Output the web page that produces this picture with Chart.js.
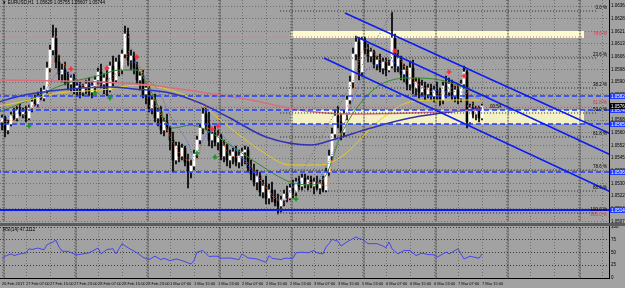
<!DOCTYPE html>
<html><head><meta charset="utf-8">
<script src="https://cdn.jsdelivr.net/npm/chart.js@4/dist/chart.umd.min.js"></script>
<style>
html,body{margin:0;padding:0;background:#a2a2a2;width:625px;height:288px;overflow:hidden}
#c1{position:absolute;left:0;top:0}
#sep{position:absolute;left:0;top:223px;width:625px;height:3px;background:#5c5c5c}
#c2{position:absolute;left:0;top:226px}
</style></head><body>
<canvas id="c1" width="625" height="223"></canvas>
<div id="sep"></div>
<canvas id="c2" width="625" height="62"></canvas>
<script>
// ---------- DATA (EURUSD H1) ----------
const open=[1.05668,1.05692,1.0562,1.05656,1.0571,1.05692,1.0574,1.05716,1.05728,1.05692,
1.05752,1.05788,1.05776,1.05824,1.05812,1.0586,1.05992,1.061,1.06172,1.06028,
1.05956,1.0598,1.0592,1.05896,1.05932,1.05872,1.05884,1.05848,1.05872,1.05896,
1.05848,1.05884,1.0592,1.05968,1.05896,1.05932,1.0586,1.06004,1.0592,1.06028,
1.0598,1.06076,1.06196,1.0604,1.06064,1.05992,1.0592,1.05944,1.05836,1.05872,
1.05752,1.058,1.05692,1.05728,1.0562,1.05668,1.05632,1.0556,1.0544,1.05524,
1.05464,1.05512,1.05428,1.05368,1.05404,1.05476,1.0556,1.05632,1.05716,1.05656,
1.0556,1.05596,1.05548,1.05584,1.05464,1.05524,1.0544,1.05464,1.05488,1.05428,
1.05464,1.05488,1.055,1.05392,1.05356,1.05308,1.05344,1.05248,1.05284,1.05212,
1.0526,1.05212,1.05188,1.05164,1.052,1.05236,1.05212,1.05272,1.05248,1.05308,
1.05284,1.05332,1.05296,1.0532,1.05284,1.05308,1.05272,1.05296,1.0526,1.05368,
1.05464,1.05596,1.05704,1.05668,1.05608,1.05716,1.058,1.05908,1.06076,1.06148,
1.05968,1.0616,1.061,1.06064,1.06088,1.06016,1.0604,1.05992,1.06028,1.0598,
1.06004,1.06172,1.06004,1.06052,1.05956,1.0598,1.05896,1.05992,1.05872,1.05908,
1.05848,1.05884,1.05836,1.05872,1.05824,1.0586,1.05836,1.058,1.05884,1.05848,
1.05896,1.05824,1.0586,1.05812,1.05896,1.05968,1.05668,1.05752,1.05716,1.0574,
1.05692];
const high=[1.0571,1.05704,1.0568,1.05728,1.05752,1.05764,1.05776,1.05752,1.05764,1.0577,
1.05812,1.0583,1.05848,1.05872,1.05884,1.06028,1.0613,1.0625,1.06232,1.0607,
1.06016,1.06028,1.05968,1.0595,1.05956,1.0592,1.05908,1.05896,1.0592,1.05932,
1.05908,1.05944,1.05992,1.06016,1.05956,1.0598,1.06028,1.06064,1.06052,1.0607,
1.061,1.06244,1.06232,1.061,1.06088,1.06028,1.05968,1.0598,1.05896,1.05884,
1.05824,1.05836,1.05752,1.05764,1.05692,1.05716,1.05644,1.05608,1.05548,1.05548,
1.05536,1.05524,1.05476,1.0544,1.055,1.05584,1.05656,1.05752,1.05764,1.05728,
1.05608,1.05644,1.0562,1.05596,1.0556,1.05536,1.055,1.05512,1.05524,1.055,
1.05512,1.05524,1.05518,1.0544,1.05416,1.0538,1.05368,1.0532,1.05344,1.05296,
1.05308,1.0526,1.05236,1.05224,1.0526,1.05284,1.05296,1.0532,1.05332,1.05344,
1.05356,1.05356,1.05344,1.05344,1.05332,1.05344,1.0532,1.05344,1.05392,1.055,
1.05632,1.0574,1.05764,1.05716,1.0574,1.05824,1.05944,1.06112,1.06184,1.06172,
1.06178,1.06178,1.06136,1.06112,1.061,1.06064,1.06076,1.06052,1.06052,1.0604,
1.06328,1.06196,1.061,1.06064,1.06016,1.06004,1.06028,1.0604,1.05932,1.05932,
1.0592,1.05908,1.05896,1.05896,1.05884,1.05908,1.05872,1.05908,1.05944,1.05932,
1.0592,1.05884,1.05896,1.0592,1.06004,1.0598,1.05776,1.05788,1.05764,1.05764,
1.05776];
const low=[1.0562,1.05578,1.05596,1.05644,1.0568,1.05674,1.05704,1.05692,1.05668,1.0568,
1.05728,1.05764,1.05758,1.058,1.05794,1.05842,1.05968,1.0607,1.05992,1.0592,
1.05908,1.0589,1.0586,1.05848,1.05836,1.05824,1.05812,1.05824,1.05836,1.05824,
1.05812,1.05848,1.05896,1.05872,1.05836,1.05824,1.05848,1.05884,1.05908,1.05944,
1.05956,1.06052,1.06004,1.0598,1.05956,1.05896,1.0586,1.05812,1.05776,1.05728,
1.05716,1.05668,1.05644,1.05596,1.05584,1.05608,1.055,1.05368,1.05416,1.05428,
1.0544,1.05404,1.05272,1.05332,1.0538,1.05452,1.05536,1.05596,1.0562,1.05524,
1.05512,1.05524,1.055,1.0544,1.05428,1.05404,1.05392,1.05416,1.05404,1.05392,
1.05404,1.05416,1.05368,1.0532,1.05284,1.0526,1.05224,1.05212,1.05176,1.05176,
1.05188,1.05164,1.05116,1.05128,1.05164,1.05188,1.052,1.05212,1.05224,1.0526,
1.0526,1.05272,1.0526,1.05272,1.05236,1.0526,1.05236,1.05248,1.05248,1.05344,
1.0544,1.05572,1.05632,1.0556,1.05584,1.0568,1.05776,1.05872,1.0604,1.0592,
1.05944,1.06076,1.06028,1.06028,1.05992,1.0598,1.05968,1.05956,1.05944,1.05968,
1.05992,1.05968,1.05968,1.0592,1.05908,1.0586,1.0586,1.05836,1.05824,1.05812,
1.05824,1.058,1.05812,1.058,1.05788,1.058,1.05764,1.05776,1.05812,1.05824,
1.058,1.05788,1.05776,1.05788,1.05872,1.05632,1.05656,1.05692,1.0568,1.05668,
1.0568];
const close=[1.05692,1.0562,1.05656,1.0571,1.05692,1.0574,1.05716,1.05728,1.05692,1.05752,
1.05788,1.05776,1.05824,1.05812,1.0586,1.05992,1.061,1.06172,1.06028,1.05956,
1.0598,1.0592,1.05896,1.05932,1.05872,1.05884,1.05848,1.05872,1.05896,1.05848,
1.05884,1.0592,1.05968,1.05896,1.05932,1.0586,1.06004,1.0592,1.06028,1.0598,
1.06076,1.06196,1.0604,1.06064,1.05992,1.0592,1.05944,1.05836,1.05872,1.05752,
1.058,1.05692,1.05728,1.0562,1.05668,1.05632,1.0556,1.0544,1.05524,1.05464,
1.05512,1.05428,1.05368,1.05404,1.05476,1.0556,1.05632,1.05716,1.05656,1.0556,
1.05596,1.05548,1.05584,1.05464,1.05524,1.0544,1.05464,1.05488,1.05428,1.05464,
1.05488,1.055,1.05392,1.05356,1.05308,1.05344,1.05248,1.05284,1.05212,1.0526,
1.05212,1.05188,1.05164,1.052,1.05236,1.05212,1.05272,1.05248,1.05308,1.05284,
1.05332,1.05296,1.0532,1.05284,1.05308,1.05272,1.05296,1.0526,1.05368,1.05464,
1.05596,1.05704,1.05668,1.05608,1.05716,1.058,1.05908,1.06076,1.06148,1.05968,
1.0616,1.061,1.06064,1.06088,1.06016,1.0604,1.05992,1.06028,1.0598,1.06004,
1.06172,1.06004,1.06052,1.05956,1.0598,1.05896,1.05992,1.05872,1.05908,1.05848,
1.05884,1.05836,1.05872,1.05824,1.0586,1.05836,1.058,1.05884,1.05848,1.05896,
1.05824,1.0586,1.05812,1.05896,1.05968,1.05668,1.05752,1.05716,1.0574,1.05692,
1.05764];

// moving averages: [bar index, price]
const maPink=[[-1,1.0592],[33,1.05908],[49,1.0589],[66,1.05848],[83,1.058],[99,1.0574],[116,1.05716],[136,1.05722],[160,1.0574]];
const maNavy=[[-1,1.05788],[6,1.05824],[19,1.0586],[36,1.05878],[44,1.05866],[56,1.05842],[66,1.05782],[76,1.05692],[88,1.05578],[103,1.0553],[110,1.0556],[123,1.05632],[136,1.05692],[160,1.05752]];
const maYellow=[[-1,1.05764],[3,1.05776],[9,1.058],[19,1.05842],[33,1.0586],[46,1.0589],[56,1.0586],[66,1.05782],[72,1.05692],[86,1.055],[96,1.0541],[106,1.0541],[113,1.05458],[126,1.0568],[136,1.05788],[146,1.058],[160,1.058]];
const maGreen=[[-1,1.05728],[9,1.058],[16,1.0586],[22,1.05902],[33,1.0595],[39,1.0598],[45,1.0598],[49,1.05872],[57,1.05632],[63,1.0565],[68,1.0562],[76,1.0553],[86,1.0541],[96,1.05308],[103,1.0529],[108,1.0535],[113,1.0559],[119,1.0577],[126,1.0589],[136,1.05932],[146,1.0592],[160,1.0583]];
const maBlueDot=[[-1,1.0568],[6,1.05728],[13,1.058],[16,1.05902],[19,1.05968],[22,1.05962],[26,1.0589],[33,1.05902],[41,1.05998],[44,1.06028],[48,1.05932],[52,1.0586],[56,1.0571],[62,1.05542],[64,1.05458],[68,1.0559],[71,1.0562],[75,1.0556],[88,1.05278],[93,1.052],[99,1.05308],[104,1.05302],[108,1.05398],[113,1.05602],[117,1.058],[121,1.05968],[125,1.0601],[129,1.0604],[136,1.0592],[143,1.0586],[153,1.05848],[160,1.058]];
const maOrangeDot=[[0,1.05668],[4,1.0568],[8,1.05716],[12,1.058],[15,1.05872],[17,1.0604],[19,1.0607],[22,1.05968],[26,1.05896],[30,1.05872],[34,1.05908],[38,1.05944],[41,1.06028],[43,1.06112],[46,1.06004],[50,1.0583],[54,1.05668],[58,1.05512],[62,1.0544],[65,1.0544],[68,1.05632],[72,1.05596],[76,1.0547],[80,1.05452],[84,1.0538],[88,1.05272],[92,1.052],[96,1.05212],[100,1.05284],[104,1.05308],[108,1.05284],[111,1.055],[114,1.0565],[117,1.0583],[119,1.0604],[122,1.06112],[126,1.0604],[129,1.06028],[131,1.061],[134,1.06004],[138,1.05908],[142,1.0586],[146,1.05836],[150,1.05872],[154,1.05884],[157,1.05776],[160,1.0574]];

// fractal markers [bar index, price]
const redMarks=[[23,1.05986],[35,1.05992],[45,1.06058],[70,1.05626],[72,1.05644],[131,1.06094],[149,1.05968],[154,1.05944]];
const greenMarks=[[9,1.05644],[31,1.05842],[36,1.05812],[65,1.05482],[71,1.05458],[98,1.05206]];

// objects
const chUpper=[[114.3,1.06322],[203,1.05596]];
const chMid=[[118.3,1.06178],[203,1.0547]];
const chLower=[[107.3,1.06052],[203,1.05248]];
const fibDiag=[[92,1.05116],[130,1.06328]];
const dashBlue=[1.05824,1.0574,1.05656,1.05368];
const solidBlue=[1.0514];
const pinkDot=[1.06178,1.05764,1.05092];
const pinkLabels=["78.6 %","61.8 %","100.0 %"];
const fibLevels=[1.06334,1.06052,1.05872,1.05722,1.05578,1.0538,1.05254,1.05122];
const fibLabels=["0.0 %","23.6 %","38.2 %","50.0 %","61.8 %","78.6 %","88.6 %","100.0 %"];
const fibSpan=[92.7,198.3];
const zoneTop=[1.06214,1.06172];
const zoneMid=[1.0574,1.05656];
const zoneSpan=[96.3,194];
const boxPrices=[1.05824,1.0574,1.05656,1.05368,1.0514];

// axes
const priceTicks=[1.06364,1.06288,1.06212,1.06136,1.0606,1.05984,1.05908,1.05832,1.05756,1.0568,1.05604,1.05528,1.05452,1.05376,1.053,1.05224,1.05148,1.05072];
const yMin=1.05068, yMax=1.0640;
const gridIdx=[0,8,16,24,32,40,48,56,64,72,80,88,96,104,112,120,128,136,144,152,160,168,176,184,192,200];
const timeLabels=["26 Feb 2017","27 Feb 07:00","27 Feb 15:00","27 Feb 23:00","28 Feb 07:00","28 Feb 15:00","28 Feb 23:00","1 Mar 07:00","1 Mar 15:00","1 Mar 23:00","2 Mar 07:00","2 Mar 15:00","2 Mar 23:00","3 Mar 07:00","3 Mar 15:00","5 Mar 23:00","6 Mar 07:00","6 Mar 15:00","6 Mar 23:00","7 Mar 07:00","7 Mar 15:00"];
const daySep=[0.67,24.67,48.67,72.67,96.67,120.67,144.67,168.67,192.67];
const xMin=-0.6667, xMax=202.3333;

// RSI(14): [bar index, value]
const rsi=[[0,38.7],[1,42.7],[3,47.3],[4,44],[6,47.3],[8,49.3],[9,57.3],[10,56],[12,58.7],[14,55.3],[15,65.3],[17,70.7],[18,74],[19,60.7],[20,52.7],[22,52],[25,45.3],[27,47.3],[29,49.3],[32,58.7],[33,47.3],[35,56],[37,57.3],[38,47.3],[39,57.3],[40,67.3],[42,59.3],[44,52.7],[45,49.3],[47,40.7],[49,36],[51,42.7],[53,36],[54,38.7],[56,34],[58,37.3],[59,36],[61,32],[63,27.3],[64,34],[65,50.7],[67,54],[69,42],[70,42.7],[72,42.7],[73,38.7],[76,39.3],[79,36],[80,47.3],[82,39.3],[85,37.3],[88,30.7],[89,44],[90,38.7],[93,36],[94,38.7],[97,38.7],[98,49.3],[100,50.7],[102,49.3],[104,54],[105,49.3],[107,47.3],[108,60.7],[109,67.3],[110,76],[112,72],[113,62.7],[115,70.7],[118,80.7],[119,77.3],[120,76],[122,67.3],[125,67.3],[127,62.7],[128,59.3],[129,70.7],[130,57.3],[132,47.3],[134,54],[136,54],[138,44],[140,48.7],[142,46],[144,45.3],[145,40.7],[148,50.7],[149,47.3],[152,57.3],[154,37.3],[156,42.7],[159,38.7],[160,47.1]];
const rsiTicks=[0,25,50,75,100];

const titleText="\u25BC EURUSD,H1  1.05629 1.05755 1.05607 1.05744";
const rsiTitle="RSI(14) 47.1112";
const timerText="00:54";

// ---------- BUILD ----------
Chart.defaults.font.family="Arial, 'Liberation Sans', sans-serif";
const pts=a=>a.map(p=>({x:p[0],y:p[1]}));
const idx=close.map((_,i)=>i);
const hLine=(p,color,dash,w,order,x0,x1)=>({type:'line',data:[{x:(x0===undefined?-2:x0),y:p},{x:(x1===undefined?204:x1),y:p}],borderColor:color,borderDash:dash||[],borderWidth:w,pointRadius:0,order});
const vLine=(x,y0,y1,color,dash,order)=>({type:'line',data:[{x,y:y0},{x,y:y1}],borderColor:color,borderDash:dash||[],borderWidth:1,pointRadius:0,order});
const maLine=(a,color,w,dash,order)=>({type:'line',data:pts(a),borderColor:color,borderWidth:w,borderDash:dash||[],pointRadius:0,cubicInterpolationMode:'monotone',order});

const ds=[];
ds.push({type:'line',data:[{x:zoneSpan[0],y:zoneTop[0]},{x:zoneSpan[1],y:zoneTop[0]}],borderColor:'rgba(0,0,0,0)',borderWidth:1,pointRadius:0,fill:'+1',backgroundColor:'#fbfbcf',order:100});
ds.push({type:'line',data:[{x:zoneSpan[0],y:zoneTop[1]},{x:zoneSpan[1],y:zoneTop[1]}],borderColor:'rgba(0,0,0,0)',borderWidth:1,pointRadius:0,order:100});
ds.push({type:'line',data:[{x:zoneSpan[0],y:zoneMid[0]},{x:zoneSpan[1],y:zoneMid[0]}],borderColor:'rgba(0,0,0,0)',borderWidth:1,pointRadius:0,fill:'+1',backgroundColor:'#f3f1c4',order:100});
ds.push({type:'line',data:[{x:zoneSpan[0],y:zoneMid[1]},{x:zoneSpan[1],y:zoneMid[1]}],borderColor:'rgba(0,0,0,0)',borderWidth:1,pointRadius:0,order:100});
daySep.forEach(s=>ds.push(vLine(s,yMin-1,yMax+1,'#3c3c3c',[2,1],95)));
ds.push({type:'bar',data:idx.map(i=>({x:i,y:[low[i],high[i]]})),backgroundColor:'#000',barThickness:1,grouped:false,order:90});
ds.push({type:'bar',data:idx.map(i=>({x:i,y:[open[i],close[i]]})),backgroundColor:idx.map(i=>close[i]>=open[i]?'#ffffff':'#000000'),barThickness:2,grouped:false,minBarLength:1,order:85});
ds.push(maLine(maPink,'#d8707c',1.5,null,60));
ds.push(maLine(maNavy,'#3232b4',1.5,null,60));
ds.push(maLine(maYellow,'#e8cc20',1,null,60));
ds.push(maLine(maGreen,'#2f8a2f',1,null,60));
ds.push(maLine(maBlueDot,'#3f5cff',1,[1,1.5],59));
ds.push(maLine(maOrangeDot,'#f06a30',1,[1,1.5],58));
pinkDot.forEach(p=>ds.push(hLine(p,'#e0707e',[1,2],1,52,-2,198.3)));
fibLevels.forEach(p=>ds.push(hLine(p,'#262626',[1,2],1,51,fibSpan[0],fibSpan[1])));
dashBlue.forEach(p=>ds.push(hLine(p,'#1e3cff',[5,3],1.5,50)));
solidBlue.forEach(p=>ds.push(hLine(p,'#0a14ff',null,2,50)));
ds.push({type:'line',data:pts(fibDiag),borderColor:'#6a6a6a',borderDash:[1,2],borderWidth:1,pointRadius:0,order:49});
[chUpper,chMid,chLower].forEach(c=>ds.push({type:'line',data:pts(c),borderColor:'#0a1cf0',borderWidth:1.5,pointRadius:0,order:30}));
ds.push({type:'line',data:pts(redMarks),showLine:false,pointStyle:'cross',pointRadius:2.5,pointBorderWidth:1.6,pointBorderColor:'#ff2a3a',borderColor:'#ff2a3a',order:5});
ds.push({type:'line',data:pts(greenMarks),showLine:false,pointStyle:'cross',pointRadius:2.5,pointBorderWidth:1.6,pointBorderColor:'#129a12',borderColor:'#129a12',order:5});

const small='4.5px Arial';
const mainDeco={id:'mainDeco',afterDraw(chart){
  const {ctx,chartArea:a,scales:{x,y}}=chart;
  ctx.save();
  ctx.setLineDash([]);
  ctx.strokeStyle='#000';ctx.lineWidth=1;
  ctx.beginPath();ctx.moveTo(a.right+0.5,0);ctx.lineTo(a.right+0.5,chart.height);ctx.stroke();
  ctx.font=small;ctx.fillStyle='#000';ctx.textAlign='left';ctx.textBaseline='top';
  ctx.fillText(titleText,2,1);
  ctx.textAlign='right';ctx.textBaseline='bottom';
  fibLevels.forEach((p,i)=>ctx.fillText(fibLabels[i],a.right-2,y.getPixelForValue(p)-0.5));
  ctx.fillStyle='#e0304a';
  pinkDot.forEach((p,i)=>ctx.fillText(pinkLabels[i],a.right-2,y.getPixelForValue(p)-0.5));
  ctx.textAlign='left';ctx.textBaseline='middle';
  boxPrices.forEach(p=>{const yy=Math.round(y.getPixelForValue(p));ctx.fillStyle='#1f3cff';ctx.fillRect(a.right+1,yy-3,15,6);ctx.fillStyle='#fff';ctx.fillText(p.toFixed(5),a.right+2,yy+0.5);});
  const last=close[close.length-1];const ly=Math.round(y.getPixelForValue(last));
  ctx.fillStyle='#000';ctx.fillRect(a.right+1,ly-3,15,6);ctx.fillStyle='#fff';ctx.fillText(last.toFixed(5),a.right+2,ly+0.5);
  ctx.fillStyle='#000';ctx.fillText(timerText,x.getPixelForValue(close.length-1)+8,ly+1);
  ctx.restore();
}};

new Chart(document.getElementById('c1'),{
  type:'bar',
  data:{datasets:ds},
  options:{
    responsive:false,animation:false,devicePixelRatio:1,
    layout:{padding:0,autoPadding:false},
    plugins:{legend:{display:false},tooltip:{enabled:false}},
    elements:{point:{radius:0}},
    scales:{
      x:{type:'linear',min:xMin,max:xMax,offset:false,
        grid:{offset:false,color:'rgba(70,70,70,0.55)',drawTicks:false,lineWidth:1},
        border:{display:false,dash:[1,2]},
        ticks:{display:false},
        afterBuildTicks:s=>{s.ticks=gridIdx.map(v=>({value:v}));},
        afterFit:s=>{s.height=1;s.paddingLeft=0;s.paddingRight=0;}},
      y:{type:'linear',position:'right',min:yMin,max:yMax,
        grid:{color:'rgba(70,70,70,0.55)',drawTicks:false,lineWidth:1},
        border:{display:false,dash:[1,2]},
        ticks:{font:{size:4.5},color:'#000',padding:2,autoSkip:false,callback:v=>Number(v).toFixed(5)},
        afterBuildTicks:s=>{s.ticks=priceTicks.map(v=>({value:v}));},
        afterFit:s=>{s.width=16;s.paddingTop=0;s.paddingBottom=0;}}
    }
  },
  plugins:[mainDeco]
});

// ---------- RSI panel ----------
const rds=[];
rds.push({type:'line',data:pts(rsi),borderColor:'#4646f0',borderWidth:1,pointRadius:0,order:10});
daySep.forEach(s=>rds.push(vLine(s,-5,105,'#3c3c3c',[2,1],50)));
const rsiDeco={id:'rsiDeco',afterDraw(chart){
  const {ctx,chartArea:a}=chart;
  ctx.save();
  ctx.setLineDash([]);
  ctx.strokeStyle='#000';ctx.lineWidth=1;
  ctx.beginPath();ctx.moveTo(a.right+0.5,0);ctx.lineTo(a.right+0.5,a.bottom+1);
  ctx.moveTo(0,a.bottom+0.5);ctx.lineTo(a.right+1,a.bottom+0.5);ctx.stroke();
  ctx.font=small;ctx.fillStyle='#000';ctx.textAlign='left';ctx.textBaseline='top';
  ctx.fillText(rsiTitle,3,1.5);
  ctx.restore();
}};
new Chart(document.getElementById('c2'),{
  type:'line',
  data:{datasets:rds},
  options:{
    responsive:false,animation:false,devicePixelRatio:1,
    layout:{padding:{top:1,left:0,right:0,bottom:0},autoPadding:false},
    plugins:{legend:{display:false},tooltip:{enabled:false}},
    elements:{point:{radius:0}},
    scales:{
      x:{type:'linear',min:xMin,max:xMax,offset:false,
        grid:{offset:false,color:'rgba(70,70,70,0.55)',drawTicks:false},
        border:{display:false,dash:[1,2]},
        ticks:{font:{size:4},color:'#000',padding:3,align:'start',maxRotation:0,autoSkip:false,
          callback:(v,i)=>timeLabels[i]||''},
        afterBuildTicks:s=>{s.ticks=gridIdx.map(v=>({value:v}));},
        afterFit:s=>{s.height=10;s.paddingLeft=0;s.paddingRight=0;}},
      y:{type:'linear',position:'right',min:0,max:100,
        grid:{color:'rgba(30,30,30,0.8)',drawTicks:false},
        border:{display:false,dash:[1,2]},
        ticks:{font:{size:4.5},color:'#000',padding:2,autoSkip:false,callback:v=>String(v)},
        afterBuildTicks:s=>{s.ticks=rsiTicks.map(v=>({value:v}));},
        afterFit:s=>{s.width=16;s.paddingTop=0;s.paddingBottom=0;}}
    }
  },
  plugins:[rsiDeco]
});
</script>
</body></html>
